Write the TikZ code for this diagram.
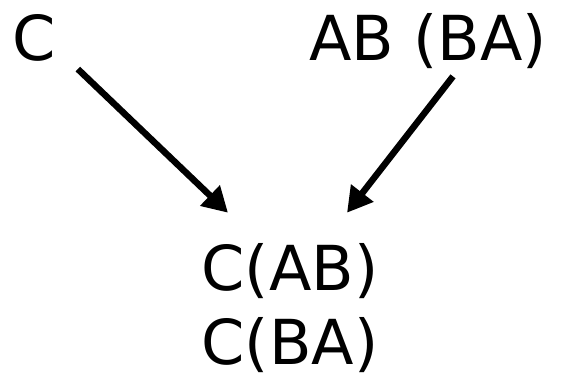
\documentclass[tikz,border=0pt]{standalone}
\usepackage{fontspec}
\setmainfont{DejaVu Sans}
\usetikzlibrary{arrows.meta}

\tikzset{
  term/.style={inner sep=0pt, anchor=base, font=\fontsize{62}{70}\selectfont},
  arr/.style={line width=6.5pt, -{Triangle[length=25pt,width=27pt]}}
}

\begin{document}
\begin{tikzpicture}[x=1pt, y=-1pt]
        \useasboundingbox (0,0) rectangle (566,378);
        \node[term] (c) at (34,60) {C};
        \node[term] (ab) at (428,60) {AB (BA)};
        \node[term] (cab) at (290,290) {C(AB)};
        \node[term] (cba) at (290,364) {C(BA)};
        \draw[arr] ([shift={(22,8)}]c.south east) -- ([shift={(-62,-30)}]cab.north);
        \draw[arr] ([shift={(25,8)}]ab.south) -- ([shift={(57,-30)}]cab.north);
      \end{tikzpicture}
\end{document}
